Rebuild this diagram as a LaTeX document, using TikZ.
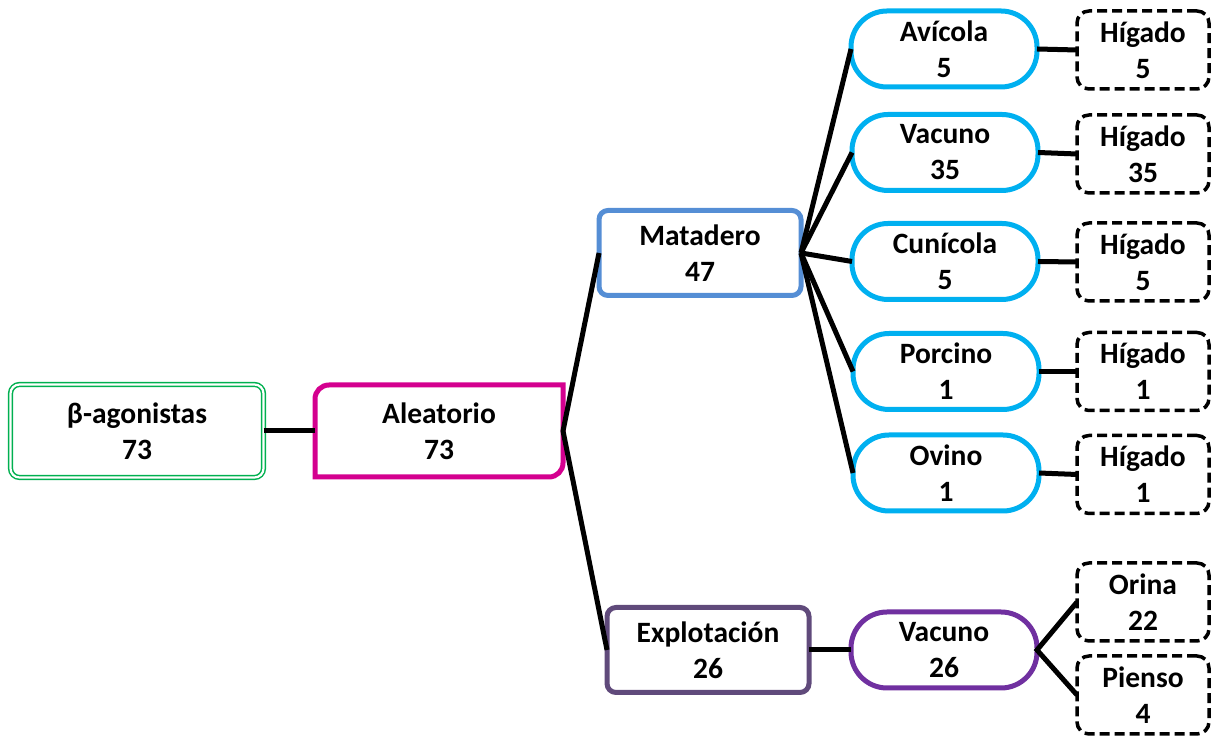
\documentclass[tikz,border=0pt]{standalone}
\usepackage{fontspec}
\setmainfont{Carlito}
\definecolor{rootgreen}{HTML}{00B050}
\definecolor{randmag}{HTML}{D4008F}
\definecolor{slaughter}{HTML}{558ED5}
\definecolor{farm}{HTML}{604A7B}
\definecolor{cattle}{HTML}{7030A0}
\definecolor{species}{HTML}{00B0F0}
\begin{document}
\begin{tikzpicture}[x=1pt,y=1pt,
  every node/.style={font=\fontsize{29.5}{36}\selectfont\bfseries, align=center,
                     inner sep=0pt, outer sep=0pt},
  rootbox/.style={draw=rootgreen, line width=1.5pt, double=white,
                  double distance=2.2pt, rounded corners=9pt,
                  minimum width=253pt, minimum height=93pt},
  randbox/.style={minimum width=248pt, minimum height=92pt},
  randline/.style={draw=randmag, line width=5pt},
  sitebox/.style={draw=#1, line width=5pt, rounded corners=9pt,
                  minimum width=202pt, minimum height=85pt},
  pill/.style={draw=#1, line width=5pt, rounded corners=36pt,
               minimum width=186pt, minimum height=76pt},
  sample/.style={draw=black, line width=3.5pt, dash pattern=on 10pt off 5pt,
                 rounded corners=12pt, minimum width=132pt, minimum height=78pt},
  link/.style={draw=black, line width=5pt}]
\useasboundingbox (0,0) rectangle (1216,738);

% root and sampling type
\node[rootbox] (root) at (137,307) {β-agonistas\\73};
\node[randbox] (rand) at (439,307) {Aleatorio\\73};
\draw[randline] (rand.west) -- ([yshift=-14pt]rand.north west)
  arc[start angle=180, end angle=90, radius=14pt] -- (rand.north east)
  -- ([yshift=14pt]rand.south east)
  arc[start angle=0, end angle=-90, radius=14pt] -- (rand.south west) -- cycle;

% sampling sites
\node[sitebox=slaughter] (mat) at (700,485) {Matadero\\47};
\node[sitebox=farm] (exp) at (708,88) {Explotación\\26};

% species at the slaughterhouse
\node[pill=species] (avi) at (944,689) {Avícola\\5};
\node[pill=species] (vac) at (945,585.5) {Vacuno\\35};
\node[pill=species] (cun) at (945,476.5) {Cunícola\\5};
\node[pill=species] (por) at (946,366.5) {Porcino\\1};
\node[pill=species] (ovi) at (946,265) {Ovino\\1};
% species on the farm
\node[pill=cattle] (vacf) at (944,88) {Vacuno\\26};

% matrices
\node[sample] (h1) at (1143,688) {Hígado\\5};
\node[sample] (h2) at (1143,584) {Hígado\\35};
\node[sample] (h3) at (1143,476) {Hígado\\5};
\node[sample] (h4) at (1143,366.5) {Hígado\\1};
\node[sample] (h5) at (1143,263.5) {Hígado\\1};
\node[sample] (ori) at (1143,136) {Orina\\22};
\node[sample] (pie) at (1143,43) {Pienso\\4};

% connectors
\draw[link] (root.east) -- (rand.west);
\draw[link] (mat.west) -- (rand.east) -- (exp.west);
\foreach \s in {avi,vac,cun,por,ovi} \draw[link] (mat.east) -- (\s.west);
\draw[link] (avi.east) -- (h1.west);
\draw[link] (vac.east) -- (h2.west);
\draw[link] (cun.east) -- (h3.west);
\draw[link] (por.east) -- (h4.west);
\draw[link] (ovi.east) -- (h5.west);
\draw[link] (exp.east) -- (vacf.west);
\draw[link] (ori.west) -- (vacf.east) -- (pie.west);
\end{tikzpicture}
\end{document}
